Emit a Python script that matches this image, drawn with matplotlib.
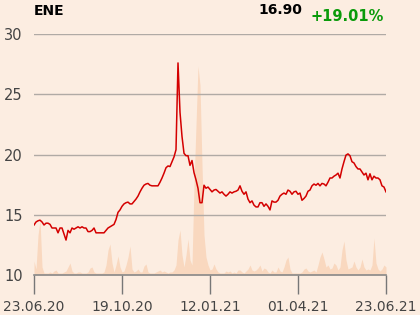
import matplotlib
matplotlib.use('Agg')
import matplotlib.pyplot as plt

# closing prices, one point per step
prices = [
    14.15, 14.4, 14.5, 14.55, 14.4, 14.15, 14.3, 14.3, 14.2, 13.9,
    13.9, 13.9, 13.5, 13.9, 13.9, 13.4, 12.9, 13.7, 13.5, 13.9,
    13.8, 13.9, 14.0, 13.9, 14.0, 13.9, 13.9, 13.6, 13.6, 13.7,
    13.9, 13.5, 13.5, 13.5, 13.5, 13.5, 13.7, 13.9, 14.0, 14.1,
    14.2, 14.6, 15.2, 15.4, 15.7, 15.9, 16.0, 16.05, 15.9, 15.9,
    16.1, 16.3, 16.55, 16.9, 17.2, 17.45, 17.55, 17.6, 17.45, 17.4,
    17.4, 17.4, 17.4, 17.7, 18.05, 18.45, 18.9, 19.05, 19.0, 19.4,
    19.8, 20.4, 27.6, 23.5, 21.5, 20.1, 19.9, 19.9, 19.1, 19.5,
    18.5, 17.9, 17.2, 16.0, 16.0, 17.45, 17.2, 17.3, 17.1, 16.9,
    17.05, 17.1, 16.95, 16.8, 16.9, 16.7, 16.55, 16.7, 16.9, 16.8,
    16.9, 16.95, 17.05, 17.4, 16.95, 16.7, 16.9, 16.3, 16.0, 16.15,
    15.8, 15.65, 15.65, 16.0, 16.0, 15.7, 15.9, 15.7, 15.4, 16.15,
    16.05, 16.05, 16.2, 16.55, 16.7, 16.8, 16.7, 17.05, 16.95, 16.7,
    16.9, 16.95, 16.7, 16.8, 16.2, 16.35, 16.55, 16.95, 17.05, 17.4,
    17.55, 17.45, 17.6, 17.4, 17.6, 17.55, 17.4, 17.7, 18.05, 18.05,
    18.2, 18.3, 18.45, 18.05, 18.8, 19.4, 19.95, 20.05, 19.9, 19.4,
    19.3, 19.0, 18.8, 18.8, 18.55, 18.3, 18.45, 17.9, 18.4, 17.9,
    18.2, 18.05, 18.05, 17.9, 17.4, 17.3, 16.9,
]

# relative trading volume
volume = [
    14, 6, 40, 55, 8, 2, 2, 2, 3, 2,
    4, 5, 2, 2, 2, 3, 4, 8, 12, 4,
    2, 2, 3, 3, 2, 2, 2, 3, 7, 8,
    3, 2, 2, 2, 2, 3, 10, 25, 31, 12,
    3, 10, 19, 8, 3, 4, 10, 18, 29, 6,
    3, 4, 6, 3, 3, 9, 11, 3, 2, 2,
    2, 3, 4, 5, 3, 4, 3, 2, 3, 3,
    5, 10, 35, 45, 20, 8, 20, 36, 15, 10,
    90, 150, 209, 190, 110, 40, 18, 10, 5, 6,
    11, 6, 3, 2, 2, 2, 4, 3, 4, 2,
    3, 2, 5, 5, 3, 2, 4, 6, 10, 5,
    4, 5, 7, 10, 4, 7, 6, 3, 2, 5,
    3, 3, 8, 4, 3, 8, 15, 18, 6, 2,
    2, 2, 2, 2, 3, 6, 7, 4, 3, 4,
    5, 3, 10, 18, 23, 16, 8, 10, 6, 7,
    12, 10, 5, 8, 25, 34, 15, 6, 7, 8,
    14, 8, 5, 8, 16, 8, 5, 6, 5, 10,
    37, 12, 6, 4, 6, 10, 8,
]

date_labels = ['23.06.20', '19.10.20', '12.01.21', '01.04.21', '23.06.21']
y_ticks = [10, 15, 20, 25, 30]

bg = '#fcede1'
n = len(prices)
x = list(range(n))

fig = plt.figure(figsize=(4.2, 3.15), dpi=100, facecolor=bg)
ax = fig.add_axes([0.081, 0.127, 0.838, 0.765])
ax.set_facecolor(bg)

# volume on a hidden second axis
ax2 = ax.twinx()
ax2.fill_between(x, volume, 0, color='#f9d8bf', lw=0, zorder=1)
ax2.set_ylim(0, 241)
ax2.axis('off')

ax.set_zorder(ax2.get_zorder() + 1)
ax.patch.set_visible(False)
ax2.patch.set_facecolor(bg)

for yv in y_ticks[1:]:
    ax.axhline(yv, color='#b0aaa5', lw=1, zorder=1)
ax.plot(x, prices, color='#d40000', lw=1.1, zorder=3)

ax.set_xlim(0, n - 1)
ax.set_ylim(10, 30)
ax.set_yticks(y_ticks)
ax.set_yticklabels([str(v) for v in y_ticks], fontsize=10.5, color='#444444')
ax.tick_params(axis='y', length=0, pad=8)

tick_pos = [round(i * (n - 1) / 4) for i in range(5)]
ax.set_xticks(tick_pos)
ax.set_xticklabels(date_labels, fontsize=10, color='#444444')
ax.tick_params(axis='x', length=14, width=1, color='#777777', pad=4)

for s in ['top', 'right', 'left']:
    ax.spines[s].set_visible(False)
ax.spines['bottom'].set_color('#888888')
ax.spines['bottom'].set_linewidth(1.2)

fig.text(0.081, 0.965, 'ENE', fontsize=10, fontweight='bold', ha='left', va='center')
fig.text(0.72, 0.968, '16.90', fontsize=10, fontweight='bold', ha='right', va='center')
fig.text(0.915, 0.947, '+19.01%', fontsize=10.5, fontweight='bold', color='#0a9a0a',
         ha='right', va='center')

fig.savefig('out.png', dpi=100, facecolor=bg)
